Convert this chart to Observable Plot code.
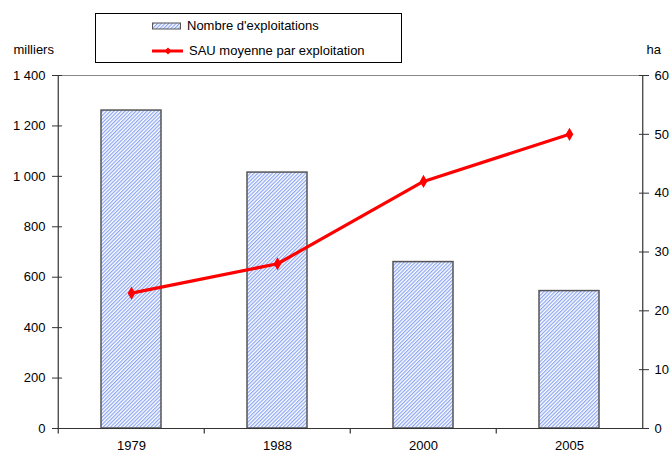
<!DOCTYPE html>
<html>
<head>
<meta charset="utf-8">
<script src="https://cdn.jsdelivr.net/npm/d3@7"></script>
<script src="https://cdn.jsdelivr.net/npm/@observablehq/plot@0.6"></script>
<style>
  html, body { margin: 0; padding: 0; background: #fff; }
  #wrap { position: relative; width: 671px; height: 453px; overflow: hidden; font-family: "Liberation Sans", Arial, sans-serif; }
  #legend { position: absolute; left: 95px; top: 13px; width: 307px; height: 50px; border: 1px solid #000; background: #fff; box-sizing: border-box; font-size: 13px; color: #000; }
  #legend .row { position: absolute; left: 56px; display: flex; align-items: center; }
  #legend .row span { margin-left: 5px; }
</style>
</head>
<body>
<div id="wrap">
  <div id="chart"></div>
  <div id="legend">
    <div class="row" style="top:4px">
      <svg width="30" height="10"><defs><pattern id="hatchL" width="2.6" height="2.6" patternUnits="userSpaceOnUse" patternTransform="rotate(45)"><rect width="2.6" height="2.6" fill="#ffffff"/><rect width="1.2" height="2.6" fill="#8aa5f3"/></pattern></defs><rect x="0.5" y="2" width="28" height="6" fill="url(#hatchL)" stroke="#555" stroke-width="1"/></svg>
      <span>Nombre d'exploitations</span>
    </div>
    <div class="row" style="top:29px">
      <svg width="32" height="10"><line x1="0" y1="5" x2="31" y2="5" stroke="#ff0000" stroke-width="3"/><path d="M16,1.5 L19.5,5 L16,8.5 L12.5,5 Z" fill="#ff0000"/></svg>
      <span>SAU moyenne par exploitation</span>
    </div>
  </div>
</div>
<script>
// Data
const years = ["1979", "1988", "2000", "2005"];
const exploitations = [1261, 1015, 660, 545];   // milliers
const sauMoyenne = [23, 28, 42, 50];              // ha
const leftTicks = [0, 200, 400, 600, 800, 1000, 1200, 1400];
const rightTicks = [0, 10, 20, 30, 40, 50, 60];

const leftMax = 1400, rightMax = 60;
const toLeft = v => v * leftMax / rightMax;

const bars = years.map((y, i) => ({year: y, value: exploitations[i]}));
const line = years.map((y, i) => ({year: y, value: toLeft(sauMoyenne[i])}));

const W = 671, H = 453, mL = 57, mR = 28, mT = 75, mB = 25;
const step = (W - mL - mR) / years.length;
const fmt = d => d3.format(",")(d).replace(/,/g, " ");
const font = "Liberation Sans, Arial, sans-serif";

const plot = Plot.plot({
  width: W, height: H,
  marginLeft: mL, marginRight: mR, marginTop: mT, marginBottom: mB,
  style: {fontFamily: font, fontSize: "13px", color: "#000", background: "#fff", overflow: "visible"},
  x: {type: "band", domain: years, paddingInner: 0.59, paddingOuter: 0.295, align: 0.5},
  y: {domain: [0, leftMax]},
  marks: [
    // bars
    Plot.barY(bars, {x: "year", y: "value", fill: "url(#hatch)", stroke: "#555", strokeWidth: 1.5}),
    // top border
    Plot.ruleY([leftMax], {stroke: "#888", strokeWidth: 1}),
    // bottom axis line
    Plot.ruleY([0], {stroke: "#333", strokeWidth: 1.2}),
    // left & right axis lines
    Plot.ruleX([years[0]], {dx: -step / 2, y1: 0, y2: leftMax, stroke: "#333", strokeWidth: 1.2}),
    Plot.ruleX([years[years.length - 1]], {dx: step / 2, y1: 0, y2: leftMax, stroke: "#333", strokeWidth: 1.2}),
    // category boundary ticks on x axis
    Plot.ruleX(years, {dx: -step / 2, y1: 0, y2: -22, stroke: "#333", strokeWidth: 1.2}),
    // left axis ticks (crossing) and labels
    Plot.axisY({ticks: leftTicks, tickSize: 10, dx: 5, tickFormat: () => "", label: null, stroke: "#333"}),
    Plot.axisY({ticks: leftTicks, tickSize: 0, tickPadding: 12, tickFormat: fmt, label: null, fill: "#000"}),
    // right axis ticks (crossing) and labels
    Plot.axisY({anchor: "right", ticks: rightTicks.map(toLeft), tickSize: 10, dx: -5, tickFormat: () => "", label: null, stroke: "#333"}),
    Plot.axisY({anchor: "right", ticks: rightTicks.map(toLeft), tickSize: 0, tickPadding: 11, tickFormat: d => fmt(Math.round(d * rightMax / leftMax)), label: null, fill: "#000"}),
    // x labels
    Plot.axisX({tickSize: 0, tickPadding: 12, label: null, fill: "#000"}),
    // line
    Plot.line(line, {x: "year", y: "value", stroke: "#ff0000", strokeWidth: 3.2}),
    Plot.dot(line, {x: "year", y: "value", symbol: "diamond", r: 4, fill: "#ff0000", stroke: "none"}),
    // unit labels
    Plot.text(["milliers"], {frameAnchor: "top-left", dx: -44, dy: -31, textAnchor: "start", fontSize: 13}),
    Plot.text(["ha"], {frameAnchor: "top-right", dx: 3, dy: -31, textAnchor: "start", fontSize: 13})
  ]
});

// hatch pattern for the bars
const svg = d3.select(plot);
const defs = svg.insert("defs", ":first-child");
const pat = defs.append("pattern").attr("id", "hatch").attr("width", 2.6).attr("height", 2.6)
  .attr("patternUnits", "userSpaceOnUse").attr("patternTransform", "rotate(45)");
pat.append("rect").attr("width", 2.6).attr("height", 2.6).attr("fill", "#ffffff");
pat.append("rect").attr("width", 1.2).attr("height", 2.6).attr("fill", "#8aa5f3");

document.getElementById("chart").appendChild(plot);
</script>
</body>
</html>
